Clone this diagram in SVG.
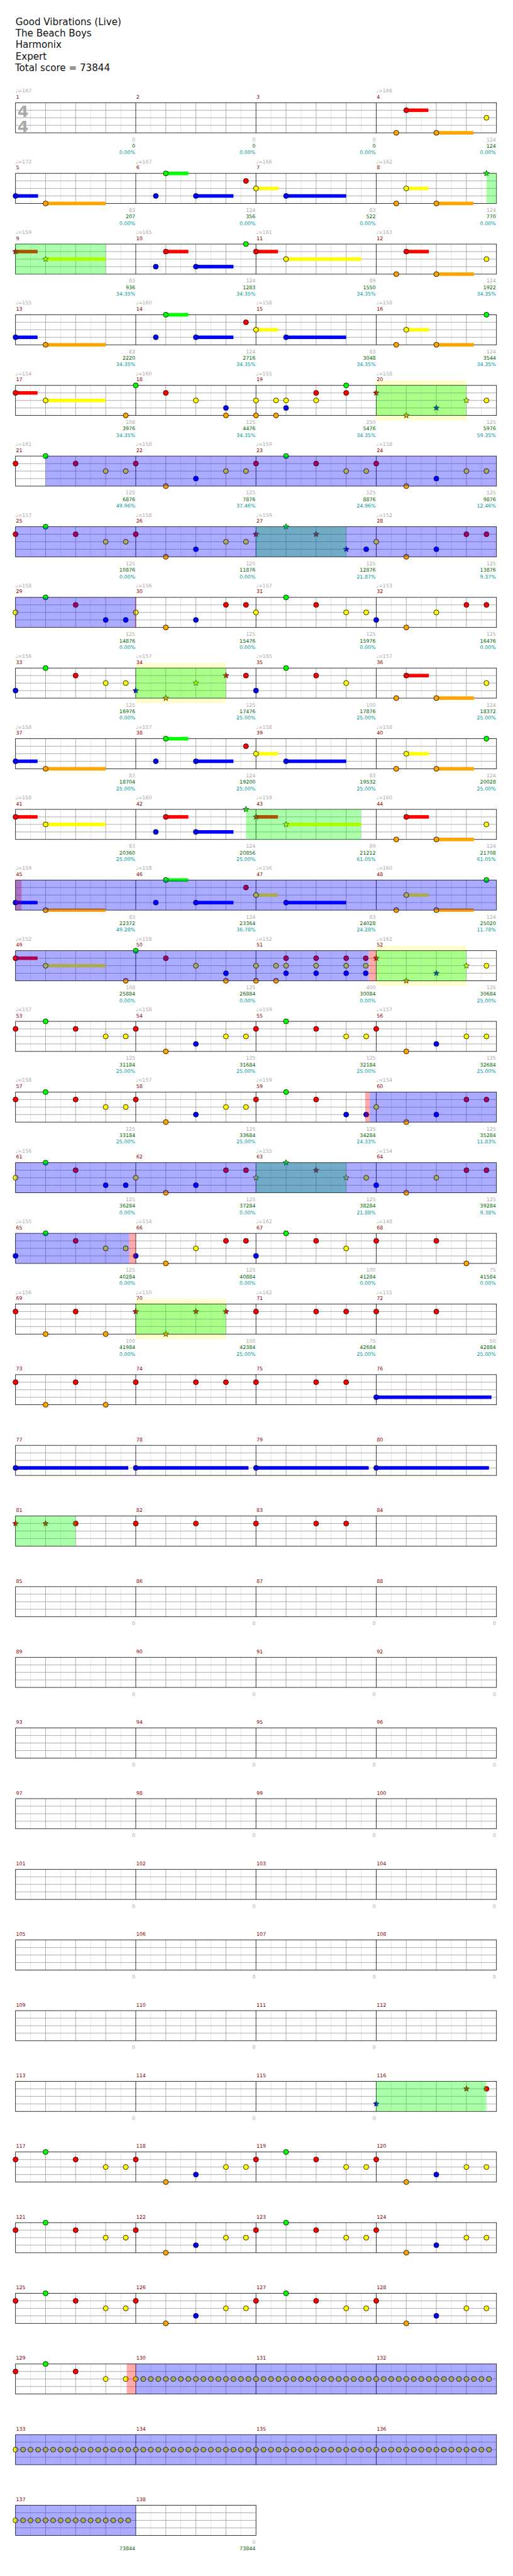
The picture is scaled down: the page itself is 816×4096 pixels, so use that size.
<svg xmlns="http://www.w3.org/2000/svg" xmlns:xlink="http://www.w3.org/1999/xlink" width="816" height="4096" viewBox="0 0 816 4096">
<style>
.hd{font-family:"DejaVu Sans",sans-serif;font-size:19px;fill:#111}
.ts{font-family:"DejaVu Sans",sans-serif;font-size:32px;font-weight:bold;fill:#aaa}
.t{font-family:"DejaVu Sans",sans-serif;font-size:10px;fill:#aaa}
.m{font-family:"DejaVu Sans",sans-serif;font-size:10px;fill:#8b0000}
.n{font-family:"DejaVu Sans",sans-serif;font-size:10px;text-anchor:end}
.a{fill:#aaa}.c{fill:#006400}.p{fill:#009999}
circle{stroke:#000;stroke-width:1}
use.s{stroke:#000;stroke-width:.8}
.G{fill:#00ff00}.R{fill:#ff0000}.Y{fill:#ffff00}.B{fill:#0000ff}.O{fill:#ffa500}
.sp{fill:#00ff00;fill-opacity:.33}.so{fill:#0000ff;fill-opacity:.33}.pk{fill:#ff0000;fill-opacity:.33}.yb{fill:#ffffcc}
.gl{stroke:#ddd;fill:none}.gb{stroke:#999;fill:none}.gm{stroke:#000;fill:none}
</style>
<defs>
<g id="grid">
<path class="gl" d="M61,0V60M121,0V60M181,0V60M241,0V60M301,0V60M361,0V60M421,0V60M481,0V60M541,0V60M601,0V60M661,0V60M721,0V60M781,0V60M841,0V60M901,0V60M961,0V60"/>
<path class="gb" d="M91,0V60M151,0V60M211,0V60M331,0V60M391,0V60M451,0V60M571,0V60M631,0V60M691,0V60M811,0V60M871,0V60M931,0V60M31,15H991M31,30H991M31,45H991"/>
<path class="gm" d="M271,0V60M511,0V60M751,0V60"/>
<rect class="gm" x="31" y="0" width="960" height="60"/>
</g>
<g id="grid2">
<path class="gl" d="M61,0V60M121,0V60M181,0V60M241,0V60M301,0V60M361,0V60M421,0V60M481,0V60"/>
<path class="gb" d="M91,0V60M151,0V60M211,0V60M331,0V60M391,0V60M451,0V60M31,15H511M31,30H511M31,45H511"/>
<path class="gm" d="M271,0V60"/>
<rect class="gm" x="31" y="0" width="480" height="60"/>
</g>
<path id="st" d="M0,-6L1.53,-2.1L5.71,-1.85L2.47,0.8L3.53,4.85L0,2.6L-3.53,4.85L-2.47,0.8L-5.71,-1.85L-1.53,-2.1Z"/>
<g id="tr">
<circle class="Y" cx="0" cy="30" r="5"/><circle class="Y" cx="15" cy="30" r="5"/><circle class="Y" cx="30" cy="30" r="5"/><circle class="Y" cx="45" cy="30" r="5"/>
<circle class="Y" cx="60" cy="30" r="5"/><circle class="Y" cx="75" cy="30" r="5"/><circle class="Y" cx="90" cy="30" r="5"/><circle class="Y" cx="105" cy="30" r="5"/>
<circle class="Y" cx="120" cy="30" r="5"/><circle class="Y" cx="135" cy="30" r="5"/><circle class="Y" cx="150" cy="30" r="5"/><circle class="Y" cx="165" cy="30" r="5"/>
<circle class="Y" cx="180" cy="30" r="5"/><circle class="Y" cx="195" cy="30" r="5"/><circle class="Y" cx="210" cy="30" r="5"/><circle class="Y" cx="225" cy="30" r="5"/>
</g>
<g id="riff">
<circle class="R" cx="31" cy="15" r="5"/><circle class="G" cx="91" cy="0" r="5"/><circle class="R" cx="151" cy="15" r="5"/><circle class="Y" cx="211" cy="30" r="5"/><circle class="Y" cx="251" cy="30" r="5"/>
<circle class="R" cx="271" cy="15" r="5"/><circle class="O" cx="331" cy="60" r="5"/><circle class="B" cx="391" cy="45" r="5"/><circle class="Y" cx="451" cy="30" r="5"/><circle class="Y" cx="491" cy="30" r="5"/>
<circle class="R" cx="511" cy="15" r="5"/><circle class="G" cx="571" cy="0" r="5"/><circle class="R" cx="631" cy="15" r="5"/><circle class="Y" cx="691" cy="30" r="5"/><circle class="Y" cx="731" cy="30" r="5"/>
<circle class="R" cx="751" cy="15" r="5"/><circle class="O" cx="811" cy="60" r="5"/><circle class="B" cx="871" cy="45" r="5"/><circle class="Y" cx="931" cy="30" r="5"/><circle class="Y" cx="971" cy="30" r="5"/>
</g>
</defs>
<g transform="scale(0.796875)">
<g id="header">
<text class="hd" x="31" y="50">Good Vibrations (Live)</text>
<text class="hd" x="31" y="73">The Beach Boys</text>
<text class="hd" x="31" y="96">Harmonix</text>
<text class="hd" x="31" y="119">Expert</text>
<text class="hd" x="30" y="142">Total score = 73844</text>
</g>

<g id="row1" transform="translate(0,205)">
<use href="#grid"/>
<text class="ts" x="35" y="28">4</text><text class="ts" x="35" y="58">4</text>
<text class="t" x="31" y="-20">♩=167</text><text class="t" x="751" y="-20">♩=166</text>
<text class="m" x="32" y="-8">1</text><text class="m" x="272" y="-8">2</text><text class="m" x="512" y="-8">3</text><text class="m" x="752" y="-8">4</text>
<text class="n a" x="270" y="77">0</text><text class="n c" x="270" y="90">0</text><text class="n p" x="270" y="103">0.00%</text>
<text class="n a" x="510" y="77">0</text><text class="n c" x="510" y="90">0</text><text class="n p" x="510" y="103">0.00%</text>
<text class="n a" x="750" y="77">0</text><text class="n c" x="750" y="90">0</text><text class="n p" x="750" y="103">0.00%</text>
<text class="n a" x="990" y="77">124</text><text class="n c" x="990" y="90">124</text><text class="n p" x="990" y="103">0.00%</text>
<rect class="R" x="811" y="11.5" width="44" height="7"/><circle class="R" cx="811" cy="15" r="5"/>
<circle class="O" cx="791" cy="60" r="5"/>
<rect class="O" x="871" y="56.5" width="74" height="7"/><circle class="O" cx="871" cy="60" r="5"/>
<circle class="Y" cx="971" cy="30" r="5"/>
</g>

<g id="row2" transform="translate(0,346)">
<use href="#grid"/>
<text class="t" x="31" y="-20">♩=172</text><text class="t" x="271" y="-20">♩=167</text><text class="t" x="511" y="-20">♩=166</text><text class="t" x="751" y="-20">♩=162</text>
<text class="m" x="32" y="-8">5</text><text class="m" x="272" y="-8">6</text><text class="m" x="512" y="-8">7</text><text class="m" x="752" y="-8">8</text>
<text class="n a" x="270" y="77">83</text><text class="n c" x="270" y="90">207</text><text class="n p" x="270" y="103">0.00%</text>
<text class="n a" x="510" y="77">124</text><text class="n c" x="510" y="90">356</text><text class="n p" x="510" y="103">0.00%</text>
<text class="n a" x="750" y="77">83</text><text class="n c" x="750" y="90">522</text><text class="n p" x="750" y="103">0.00%</text>
<text class="n a" x="990" y="77">124</text><text class="n c" x="990" y="90">770</text><text class="n p" x="990" y="103">0.00%</text>
<rect class="B" x="31" y="41.5" width="45" height="7"/><circle class="B" cx="31" cy="45" r="5"/>
<rect class="O" x="91" y="56.5" width="120" height="7"/><circle class="O" cx="91" cy="60" r="5"/>
<circle class="B" cx="311" cy="45" r="5"/>
<rect class="G" x="331" y="-3.5" width="45" height="7"/><circle class="G" cx="331" cy="0" r="5"/>
<rect class="B" x="391" y="41.5" width="75" height="7"/><circle class="B" cx="391" cy="45" r="5"/>
<circle class="R" cx="491" cy="15" r="5"/>
<rect class="Y" x="511" y="26.5" width="45" height="7"/><circle class="Y" cx="511" cy="30" r="5"/>
<rect class="B" x="571" y="41.5" width="120" height="7"/><circle class="B" cx="571" cy="45" r="5"/>
<circle class="O" cx="791" cy="60" r="5"/>
<rect class="Y" x="811" y="26.5" width="44" height="7"/><circle class="Y" cx="811" cy="30" r="5"/>
<rect class="O" x="871" y="56.5" width="74" height="7"/><circle class="O" cx="871" cy="60" r="5"/>
<use class="s G" href="#st" x="971" y="0"/>
<rect class="sp" x="971" y="0" width="20" height="60"/>
</g>

<g id="row3" transform="translate(0,487)">
<use href="#grid"/>
<text class="t" x="31" y="-20">♩=159</text><text class="t" x="271" y="-20">♩=165</text><text class="t" x="511" y="-20">♩=161</text><text class="t" x="751" y="-20">♩=163</text>
<text class="m" x="32" y="-8">9</text><text class="m" x="272" y="-8">10</text><text class="m" x="512" y="-8">11</text><text class="m" x="752" y="-8">12</text>
<text class="n a" x="270" y="77">83</text><text class="n c" x="270" y="90">936</text><text class="n p" x="270" y="103">34.35%</text>
<text class="n a" x="510" y="77">124</text><text class="n c" x="510" y="90">1283</text><text class="n p" x="510" y="103">34.35%</text>
<text class="n a" x="750" y="77">89</text><text class="n c" x="750" y="90">1550</text><text class="n p" x="750" y="103">34.35%</text>
<text class="n a" x="990" y="77">124</text><text class="n c" x="990" y="90">1922</text><text class="n p" x="990" y="103">34.35%</text>
<rect class="R" x="31" y="11.5" width="44" height="7"/><use class="s R" href="#st" x="31" y="15"/>
<rect class="Y" x="91" y="26.5" width="120" height="7"/><use class="s Y" href="#st" x="91" y="30"/>
<circle class="B" cx="311" cy="45" r="5"/>
<rect class="R" x="331" y="11.5" width="45" height="7"/><circle class="R" cx="331" cy="15" r="5"/>
<rect class="B" x="391" y="41.5" width="75" height="7"/><circle class="B" cx="391" cy="45" r="5"/>
<circle class="G" cx="491" cy="0" r="5"/>
<rect class="R" x="511" y="11.5" width="44" height="7"/><circle class="R" cx="511" cy="15" r="5"/>
<rect class="Y" x="571" y="26.5" width="150" height="7"/><circle class="Y" cx="571" cy="30" r="5"/>
<circle class="O" cx="791" cy="60" r="5"/>
<rect class="R" x="811" y="11.5" width="45" height="7"/><circle class="R" cx="811" cy="15" r="5"/>
<rect class="O" x="871" y="56.5" width="75" height="7"/><circle class="O" cx="871" cy="60" r="5"/>
<circle class="Y" cx="971" cy="30" r="5"/>
<rect class="sp" x="31" y="0" width="180" height="60"/>
</g>

<g id="row4" transform="translate(0,628)">
<use href="#grid"/>
<text class="t" x="31" y="-20">♩=155</text><text class="t" x="271" y="-20">♩=160</text><text class="t" x="511" y="-20">♩=158</text><text class="t" x="751" y="-20">♩=158</text>
<text class="m" x="32" y="-8">13</text><text class="m" x="272" y="-8">14</text><text class="m" x="512" y="-8">15</text><text class="m" x="752" y="-8">16</text>
<text class="n a" x="270" y="77">83</text><text class="n c" x="270" y="90">2220</text><text class="n p" x="270" y="103">34.35%</text>
<text class="n a" x="510" y="77">124</text><text class="n c" x="510" y="90">2716</text><text class="n p" x="510" y="103">34.35%</text>
<text class="n a" x="750" y="77">83</text><text class="n c" x="750" y="90">3048</text><text class="n p" x="750" y="103">34.35%</text>
<text class="n a" x="990" y="77">124</text><text class="n c" x="990" y="90">3544</text><text class="n p" x="990" y="103">34.35%</text>
<rect class="B" x="31" y="41.5" width="44" height="7"/><circle class="B" cx="31" cy="45" r="5"/>
<rect class="O" x="91" y="56.5" width="120" height="7"/><circle class="O" cx="91" cy="60" r="5"/>
<circle class="B" cx="311" cy="45" r="5"/>
<rect class="G" x="331" y="-3.5" width="45" height="7"/><circle class="G" cx="331" cy="0" r="5"/>
<rect class="B" x="391" y="41.5" width="75" height="7"/><circle class="B" cx="391" cy="45" r="5"/>
<circle class="R" cx="491" cy="15" r="5"/>
<rect class="Y" x="511" y="26.5" width="44" height="7"/><circle class="Y" cx="511" cy="30" r="5"/>
<rect class="B" x="571" y="41.5" width="120" height="7"/><circle class="B" cx="571" cy="45" r="5"/>
<circle class="O" cx="791" cy="60" r="5"/>
<rect class="Y" x="811" y="26.5" width="45" height="7"/><circle class="Y" cx="811" cy="30" r="5"/>
<rect class="O" x="871" y="56.5" width="75" height="7"/><circle class="O" cx="871" cy="60" r="5"/>
<circle class="G" cx="971" cy="0" r="5"/>
</g>

<g id="row5" transform="translate(0,769)">
<rect class="yb" x="751" y="-10" width="180" height="80"/>
<use href="#grid"/>
<text class="t" x="31" y="-20">♩=154</text><text class="t" x="271" y="-20">♩=160</text><text class="t" x="511" y="-20">♩=155</text><text class="t" x="751" y="-20">♩=158</text>
<text class="m" x="32" y="-8">17</text><text class="m" x="272" y="-8">18</text><text class="m" x="512" y="-8">19</text><text class="m" x="752" y="-8">20</text>
<text class="n a" x="270" y="77">108</text><text class="n c" x="270" y="90">3976</text><text class="n p" x="270" y="103">34.35%</text>
<text class="n a" x="510" y="77">125</text><text class="n c" x="510" y="90">4476</text><text class="n p" x="510" y="103">34.35%</text>
<text class="n a" x="750" y="77">250</text><text class="n c" x="750" y="90">5476</text><text class="n p" x="750" y="103">34.35%</text>
<text class="n a" x="990" y="77">125</text><text class="n c" x="990" y="90">5976</text><text class="n p" x="990" y="103">59.35%</text>
<rect class="R" x="31" y="11.5" width="44" height="7"/><circle class="R" cx="31" cy="15" r="5"/>
<rect class="Y" x="91" y="26.5" width="120" height="7"/><circle class="Y" cx="91" cy="30" r="5"/>
<circle class="O" cx="251" cy="60" r="5"/><circle class="G" cx="271" cy="0" r="5"/>
<circle class="R" cx="331" cy="15" r="5"/><circle class="Y" cx="391" cy="30" r="5"/>
<circle class="B" cx="451" cy="45" r="5"/><circle class="O" cx="451" cy="60" r="5"/>
<circle class="Y" cx="511" cy="30" r="5"/><circle class="O" cx="511" cy="60" r="5"/>
<circle class="Y" cx="551" cy="30" r="5"/><circle class="O" cx="551" cy="60" r="5"/>
<circle class="Y" cx="571" cy="30" r="5"/><circle class="B" cx="571" cy="45" r="5"/>
<circle class="R" cx="631" cy="15" r="5"/><circle class="Y" cx="631" cy="30" r="5"/>
<circle class="G" cx="691" cy="0" r="5"/><circle class="R" cx="691" cy="15" r="5"/>
<use class="s R" href="#st" x="751" y="15"/><use class="s O" href="#st" x="811" y="60"/><use class="s B" href="#st" x="871" y="45"/><use class="s Y" href="#st" x="931" y="30"/>
<circle class="Y" cx="971" cy="30" r="5"/>
<rect class="sp" x="751" y="0" width="180" height="60"/>
</g>

<g id="row6" transform="translate(0,910)">
<use href="#grid"/>
<text class="t" x="31" y="-20">♩=161</text><text class="t" x="271" y="-20">♩=158</text><text class="t" x="511" y="-20">♩=159</text><text class="t" x="751" y="-20">♩=158</text>
<text class="m" x="32" y="-8">21</text><text class="m" x="272" y="-8">22</text><text class="m" x="512" y="-8">23</text><text class="m" x="752" y="-8">24</text>
<text class="n a" x="270" y="77">125</text><text class="n c" x="270" y="90">6876</text><text class="n p" x="270" y="103">49.96%</text>
<text class="n a" x="510" y="77">125</text><text class="n c" x="510" y="90">7876</text><text class="n p" x="510" y="103">37.46%</text>
<text class="n a" x="750" y="77">125</text><text class="n c" x="750" y="90">8876</text><text class="n p" x="750" y="103">24.96%</text>
<text class="n a" x="990" y="77">125</text><text class="n c" x="990" y="90">9876</text><text class="n p" x="990" y="103">12.46%</text>
<use href="#riff"/>
<rect class="so" x="91" y="0" width="900" height="60"/>
</g>

<g id="row7" transform="translate(0,1051)">
<use href="#grid"/>
<text class="t" x="31" y="-20">♩=157</text><text class="t" x="271" y="-20">♩=158</text><text class="t" x="511" y="-20">♩=159</text><text class="t" x="751" y="-20">♩=152</text>
<text class="m" x="32" y="-8">25</text><text class="m" x="272" y="-8">26</text><text class="m" x="512" y="-8">27</text><text class="m" x="752" y="-8">28</text>
<text class="n a" x="270" y="77">125</text><text class="n c" x="270" y="90">10876</text><text class="n p" x="270" y="103">0.00%</text>
<text class="n a" x="510" y="77">125</text><text class="n c" x="510" y="90">11876</text><text class="n p" x="510" y="103">0.00%</text>
<text class="n a" x="750" y="77">125</text><text class="n c" x="750" y="90">12876</text><text class="n p" x="750" y="103">21.87%</text>
<text class="n a" x="990" y="77">125</text><text class="n c" x="990" y="90">13876</text><text class="n p" x="990" y="103">9.37%</text>
<circle class="R" cx="31" cy="15" r="5"/><circle class="G" cx="91" cy="0" r="5"/><circle class="R" cx="151" cy="15" r="5"/><circle class="Y" cx="211" cy="30" r="5"/><circle class="Y" cx="251" cy="30" r="5"/>
<circle class="R" cx="271" cy="15" r="5"/><circle class="O" cx="331" cy="60" r="5"/><circle class="B" cx="391" cy="45" r="5"/><circle class="Y" cx="451" cy="30" r="5"/><circle class="Y" cx="491" cy="30" r="5"/>
<use class="s R" href="#st" x="511" y="15"/><use class="s G" href="#st" x="571" y="0"/><use class="s R" href="#st" x="631" y="15"/><use class="s B" href="#st" x="691" y="45"/>
<circle class="B" cx="731" cy="45" r="5"/><circle class="Y" cx="751" cy="30" r="5"/><circle class="O" cx="811" cy="60" r="5"/><circle class="B" cx="871" cy="45" r="5"/><circle class="R" cx="931" cy="15" r="5"/><circle class="R" cx="971" cy="15" r="5"/>
<rect class="sp" x="511" y="0" width="180" height="60"/>
<rect class="so" x="31" y="0" width="960" height="60"/>
</g>

<g id="row8" transform="translate(0,1192)">
<use href="#grid"/>
<text class="t" x="31" y="-20">♩=158</text><text class="t" x="271" y="-20">♩=156</text><text class="t" x="511" y="-20">♩=157</text><text class="t" x="751" y="-20">♩=153</text>
<text class="m" x="32" y="-8">29</text><text class="m" x="272" y="-8">30</text><text class="m" x="512" y="-8">31</text><text class="m" x="752" y="-8">32</text>
<text class="n a" x="270" y="77">125</text><text class="n c" x="270" y="90">14876</text><text class="n p" x="270" y="103">0.00%</text>
<text class="n a" x="510" y="77">125</text><text class="n c" x="510" y="90">15476</text><text class="n p" x="510" y="103">0.00%</text>
<text class="n a" x="750" y="77">125</text><text class="n c" x="750" y="90">15976</text><text class="n p" x="750" y="103">0.00%</text>
<text class="n a" x="990" y="77">125</text><text class="n c" x="990" y="90">16476</text><text class="n p" x="990" y="103">0.00%</text>
<circle class="Y" cx="31" cy="30" r="5"/><circle class="G" cx="91" cy="0" r="5"/><circle class="R" cx="151" cy="15" r="5"/><circle class="B" cx="211" cy="45" r="5"/><circle class="B" cx="251" cy="45" r="5"/>
<circle class="Y" cx="271" cy="30" r="5"/><circle class="O" cx="331" cy="60" r="5"/><circle class="B" cx="391" cy="45" r="5"/><circle class="R" cx="451" cy="15" r="5"/><circle class="R" cx="491" cy="15" r="5"/>
<circle class="Y" cx="511" cy="30" r="5"/><circle class="G" cx="571" cy="0" r="5"/><circle class="R" cx="631" cy="15" r="5"/><circle class="Y" cx="691" cy="30" r="5"/><circle class="Y" cx="731" cy="30" r="5"/>
<circle class="B" cx="751" cy="45" r="5"/><circle class="O" cx="811" cy="60" r="5"/><circle class="Y" cx="871" cy="30" r="5"/><circle class="R" cx="931" cy="15" r="5"/><circle class="R" cx="971" cy="15" r="5"/>
<rect class="so" x="31" y="0" width="240" height="60"/>
<rect class="pk" x="269.5" y="0" width="1.5" height="60"/>
</g>

<g id="row9" transform="translate(0,1333)">
<rect class="yb" x="271" y="-10" width="180" height="80"/>
<use href="#grid"/>
<text class="t" x="31" y="-20">♩=156</text><text class="t" x="271" y="-20">♩=157</text><text class="t" x="511" y="-20">♩=165</text><text class="t" x="751" y="-20">♩=157</text>
<text class="m" x="32" y="-8">33</text><text class="m" x="272" y="-8">34</text><text class="m" x="512" y="-8">35</text><text class="m" x="752" y="-8">36</text>
<text class="n a" x="270" y="77">125</text><text class="n c" x="270" y="90">16976</text><text class="n p" x="270" y="103">0.00%</text>
<text class="n a" x="510" y="77">125</text><text class="n c" x="510" y="90">17476</text><text class="n p" x="510" y="103">25.00%</text>
<text class="n a" x="750" y="77">100</text><text class="n c" x="750" y="90">17876</text><text class="n p" x="750" y="103">25.00%</text>
<text class="n a" x="990" y="77">124</text><text class="n c" x="990" y="90">18372</text><text class="n p" x="990" y="103">25.00%</text>
<circle class="B" cx="31" cy="45" r="5"/><circle class="G" cx="91" cy="0" r="5"/><circle class="R" cx="151" cy="15" r="5"/><circle class="Y" cx="211" cy="30" r="5"/><circle class="Y" cx="251" cy="30" r="5"/>
<use class="s B" href="#st" x="271" y="45"/><use class="s O" href="#st" x="331" y="60"/><use class="s Y" href="#st" x="391" y="30"/><use class="s R" href="#st" x="451" y="15"/>
<circle class="R" cx="491" cy="15" r="5"/><circle class="B" cx="511" cy="45" r="5"/><circle class="G" cx="571" cy="0" r="5"/><circle class="R" cx="631" cy="15" r="5"/><circle class="Y" cx="691" cy="30" r="5"/>
<circle class="O" cx="791" cy="60" r="5"/>
<rect class="R" x="811" y="11.5" width="45" height="7"/><circle class="R" cx="811" cy="15" r="5"/>
<rect class="O" x="871" y="56.5" width="75" height="7"/><circle class="O" cx="871" cy="60" r="5"/>
<circle class="Y" cx="971" cy="30" r="5"/>
<rect class="sp" x="271" y="0" width="180" height="60"/>
</g>

<g id="row10" transform="translate(0,1474)">
<use href="#grid"/>
<text class="t" x="31" y="-20">♩=158</text><text class="t" x="271" y="-20">♩=157</text><text class="t" x="511" y="-20">♩=158</text><text class="t" x="751" y="-20">♩=158</text>
<text class="m" x="32" y="-8">37</text><text class="m" x="272" y="-8">38</text><text class="m" x="512" y="-8">39</text><text class="m" x="752" y="-8">40</text>
<text class="n a" x="270" y="77">83</text><text class="n c" x="270" y="90">18704</text><text class="n p" x="270" y="103">25.00%</text>
<text class="n a" x="510" y="77">124</text><text class="n c" x="510" y="90">19200</text><text class="n p" x="510" y="103">25.00%</text>
<text class="n a" x="750" y="77">83</text><text class="n c" x="750" y="90">19532</text><text class="n p" x="750" y="103">25.00%</text>
<text class="n a" x="990" y="77">124</text><text class="n c" x="990" y="90">20028</text><text class="n p" x="990" y="103">25.00%</text>
<rect class="B" x="31" y="41.5" width="44" height="7"/><circle class="B" cx="31" cy="45" r="5"/>
<rect class="O" x="91" y="56.5" width="120" height="7"/><circle class="O" cx="91" cy="60" r="5"/>
<circle class="B" cx="311" cy="45" r="5"/>
<rect class="G" x="331" y="-3.5" width="45" height="7"/><circle class="G" cx="331" cy="0" r="5"/>
<rect class="B" x="391" y="41.5" width="75" height="7"/><circle class="B" cx="391" cy="45" r="5"/>
<circle class="R" cx="491" cy="15" r="5"/>
<rect class="Y" x="511" y="26.5" width="44" height="7"/><circle class="Y" cx="511" cy="30" r="5"/>
<rect class="B" x="571" y="41.5" width="120" height="7"/><circle class="B" cx="571" cy="45" r="5"/>
<circle class="O" cx="791" cy="60" r="5"/>
<rect class="Y" x="811" y="26.5" width="45" height="7"/><circle class="Y" cx="811" cy="30" r="5"/>
<rect class="O" x="871" y="56.5" width="75" height="7"/><circle class="O" cx="871" cy="60" r="5"/>
<circle class="G" cx="971" cy="0" r="5"/>
</g>

<g id="row11" transform="translate(0,1615)">
<use href="#grid"/>
<text class="t" x="31" y="-20">♩=158</text><text class="t" x="271" y="-20">♩=160</text><text class="t" x="511" y="-20">♩=159</text><text class="t" x="751" y="-20">♩=160</text>
<text class="m" x="32" y="-8">41</text><text class="m" x="272" y="-8">42</text><text class="m" x="512" y="-8">43</text><text class="m" x="752" y="-8">44</text>
<text class="n a" x="270" y="77">83</text><text class="n c" x="270" y="90">20360</text><text class="n p" x="270" y="103">25.00%</text>
<text class="n a" x="510" y="77">124</text><text class="n c" x="510" y="90">20856</text><text class="n p" x="510" y="103">25.00%</text>
<text class="n a" x="750" y="77">89</text><text class="n c" x="750" y="90">21212</text><text class="n p" x="750" y="103">61.05%</text>
<text class="n a" x="990" y="77">124</text><text class="n c" x="990" y="90">21708</text><text class="n p" x="990" y="103">61.05%</text>
<rect class="R" x="31" y="11.5" width="44" height="7"/><circle class="R" cx="31" cy="15" r="5"/>
<rect class="Y" x="91" y="26.5" width="120" height="7"/><circle class="Y" cx="91" cy="30" r="5"/>
<circle class="B" cx="311" cy="45" r="5"/>
<rect class="R" x="331" y="11.5" width="45" height="7"/><circle class="R" cx="331" cy="15" r="5"/>
<rect class="B" x="391" y="41.5" width="75" height="7"/><circle class="B" cx="391" cy="45" r="5"/>
<use class="s G" href="#st" x="491" y="0"/>
<rect class="R" x="511" y="11.5" width="44" height="7"/><use class="s R" href="#st" x="511" y="15"/>
<rect class="Y" x="571" y="26.5" width="150" height="7"/><use class="s Y" href="#st" x="571" y="30"/>
<circle class="O" cx="791" cy="60" r="5"/>
<rect class="R" x="811" y="11.5" width="45" height="7"/><circle class="R" cx="811" cy="15" r="5"/>
<rect class="O" x="871" y="56.5" width="75" height="7"/><circle class="O" cx="871" cy="60" r="5"/>
<circle class="Y" cx="971" cy="30" r="5"/>
<rect class="sp" x="491" y="0" width="230" height="60"/>
</g>

<g id="row12" transform="translate(0,1756)">
<use href="#grid"/>
<text class="t" x="31" y="-20">♩=159</text><text class="t" x="271" y="-20">♩=158</text><text class="t" x="511" y="-20">♩=156</text><text class="t" x="751" y="-20">♩=160</text>
<text class="m" x="32" y="-8">45</text><text class="m" x="272" y="-8">46</text><text class="m" x="512" y="-8">47</text><text class="m" x="752" y="-8">48</text>
<text class="n a" x="270" y="77">83</text><text class="n c" x="270" y="90">22372</text><text class="n p" x="270" y="103">49.28%</text>
<text class="n a" x="510" y="77">124</text><text class="n c" x="510" y="90">23364</text><text class="n p" x="510" y="103">36.78%</text>
<text class="n a" x="750" y="77">83</text><text class="n c" x="750" y="90">24028</text><text class="n p" x="750" y="103">24.28%</text>
<text class="n a" x="990" y="77">124</text><text class="n c" x="990" y="90">25020</text><text class="n p" x="990" y="103">11.78%</text>
<rect class="B" x="31" y="41.5" width="44" height="7"/><circle class="B" cx="31" cy="45" r="5"/>
<rect class="O" x="91" y="56.5" width="120" height="7"/><circle class="O" cx="91" cy="60" r="5"/>
<circle class="B" cx="311" cy="45" r="5"/>
<rect class="G" x="331" y="-3.5" width="45" height="7"/><circle class="G" cx="331" cy="0" r="5"/>
<rect class="B" x="391" y="41.5" width="75" height="7"/><circle class="B" cx="391" cy="45" r="5"/>
<circle class="R" cx="491" cy="15" r="5"/>
<rect class="Y" x="511" y="26.5" width="44" height="7"/><circle class="Y" cx="511" cy="30" r="5"/>
<rect class="B" x="571" y="41.5" width="120" height="7"/><circle class="B" cx="571" cy="45" r="5"/>
<circle class="O" cx="791" cy="60" r="5"/>
<rect class="Y" x="811" y="26.5" width="45" height="7"/><circle class="Y" cx="811" cy="30" r="5"/>
<rect class="O" x="871" y="56.5" width="75" height="7"/><circle class="O" cx="871" cy="60" r="5"/>
<circle class="G" cx="971" cy="0" r="5"/>
<rect class="pk" x="31" y="0" width="12" height="60"/>
<rect class="so" x="31" y="0" width="960" height="60"/>
</g>

<g id="row13" transform="translate(0,1897)">
<rect class="yb" x="751" y="-10" width="180" height="80"/>
<use href="#grid"/>
<text class="t" x="31" y="-20">♩=152</text><text class="t" x="271" y="-20">♩=158</text><text class="t" x="511" y="-20">♩=152</text><text class="t" x="751" y="-20">♩=162</text>
<text class="m" x="32" y="-8">49</text><text class="m" x="272" y="-8">50</text><text class="m" x="512" y="-8">51</text><text class="m" x="752" y="-8">52</text>
<text class="n a" x="270" y="77">108</text><text class="n c" x="270" y="90">25884</text><text class="n p" x="270" y="103">0.00%</text>
<text class="n a" x="510" y="77">125</text><text class="n c" x="510" y="90">26884</text><text class="n p" x="510" y="103">0.00%</text>
<text class="n a" x="750" y="77">400</text><text class="n c" x="750" y="90">30084</text><text class="n p" x="750" y="103">0.00%</text>
<text class="n a" x="990" y="77">125</text><text class="n c" x="990" y="90">30684</text><text class="n p" x="990" y="103">25.00%</text>
<rect class="R" x="31" y="11.5" width="44" height="7"/><circle class="R" cx="31" cy="15" r="5"/>
<rect class="Y" x="91" y="26.5" width="120" height="7"/><circle class="Y" cx="91" cy="30" r="5"/>
<circle class="O" cx="251" cy="60" r="5"/><circle class="G" cx="271" cy="0" r="5"/>
<circle class="R" cx="331" cy="15" r="5"/><circle class="Y" cx="391" cy="30" r="5"/>
<circle class="B" cx="451" cy="45" r="5"/><circle class="O" cx="451" cy="60" r="5"/>
<circle class="Y" cx="511" cy="30" r="5"/><circle class="O" cx="511" cy="60" r="5"/>
<circle class="Y" cx="551" cy="30" r="5"/><circle class="O" cx="551" cy="60" r="5"/>
<circle class="R" cx="571" cy="15" r="5"/><circle class="Y" cx="571" cy="30" r="5"/><circle class="B" cx="571" cy="45" r="5"/>
<circle class="R" cx="631" cy="15" r="5"/><circle class="Y" cx="631" cy="30" r="5"/><circle class="B" cx="631" cy="45" r="5"/>
<circle class="R" cx="691" cy="15" r="5"/><circle class="Y" cx="691" cy="30" r="5"/><circle class="B" cx="691" cy="45" r="5"/>
<circle class="R" cx="730" cy="15" r="5"/><circle class="Y" cx="730" cy="30" r="5"/><circle class="B" cx="730" cy="45" r="5"/>
<use class="s R" href="#st" x="751" y="15"/><use class="s O" href="#st" x="811" y="60"/><use class="s B" href="#st" x="871" y="45"/><use class="s Y" href="#st" x="931" y="30"/>
<circle class="Y" cx="971" cy="30" r="5"/>
<rect class="sp" x="751" y="0" width="180" height="60"/>
<rect class="so" x="31" y="0" width="705" height="60"/>
<rect class="pk" x="736" y="0" width="15" height="60"/>
</g>

<g id="row14" transform="translate(0,2038)">
<use href="#grid"/>
<text class="t" x="31" y="-20">♩=157</text><text class="t" x="271" y="-20">♩=158</text><text class="t" x="511" y="-20">♩=159</text><text class="t" x="751" y="-20">♩=157</text>
<text class="m" x="32" y="-8">53</text><text class="m" x="272" y="-8">54</text><text class="m" x="512" y="-8">55</text><text class="m" x="752" y="-8">56</text>
<text class="n a" x="270" y="77">125</text><text class="n c" x="270" y="90">31184</text><text class="n p" x="270" y="103">25.00%</text>
<text class="n a" x="510" y="77">125</text><text class="n c" x="510" y="90">31684</text><text class="n p" x="510" y="103">25.00%</text>
<text class="n a" x="750" y="77">125</text><text class="n c" x="750" y="90">32184</text><text class="n p" x="750" y="103">25.00%</text>
<text class="n a" x="990" y="77">125</text><text class="n c" x="990" y="90">32684</text><text class="n p" x="990" y="103">25.00%</text>
<use href="#riff"/>
</g>

<g id="row15" transform="translate(0,2179)">
<use href="#grid"/>
<text class="t" x="31" y="-20">♩=158</text><text class="t" x="271" y="-20">♩=157</text><text class="t" x="511" y="-20">♩=159</text><text class="t" x="751" y="-20">♩=154</text>
<text class="m" x="32" y="-8">57</text><text class="m" x="272" y="-8">58</text><text class="m" x="512" y="-8">59</text><text class="m" x="752" y="-8">60</text>
<text class="n a" x="270" y="77">125</text><text class="n c" x="270" y="90">33184</text><text class="n p" x="270" y="103">25.00%</text>
<text class="n a" x="510" y="77">125</text><text class="n c" x="510" y="90">33684</text><text class="n p" x="510" y="103">25.00%</text>
<text class="n a" x="750" y="77">125</text><text class="n c" x="750" y="90">34284</text><text class="n p" x="750" y="103">24.33%</text>
<text class="n a" x="990" y="77">125</text><text class="n c" x="990" y="90">35284</text><text class="n p" x="990" y="103">11.83%</text>
<circle class="R" cx="31" cy="15" r="5"/><circle class="G" cx="91" cy="0" r="5"/><circle class="R" cx="151" cy="15" r="5"/><circle class="Y" cx="211" cy="30" r="5"/><circle class="Y" cx="251" cy="30" r="5"/>
<circle class="R" cx="271" cy="15" r="5"/><circle class="O" cx="331" cy="60" r="5"/><circle class="B" cx="391" cy="45" r="5"/><circle class="Y" cx="451" cy="30" r="5"/><circle class="Y" cx="491" cy="30" r="5"/>
<circle class="R" cx="511" cy="15" r="5"/><circle class="G" cx="571" cy="0" r="5"/><circle class="R" cx="631" cy="15" r="5"/><circle class="B" cx="691" cy="45" r="5"/><circle class="B" cx="731" cy="45" r="5"/>
<circle class="Y" cx="751" cy="30" r="5"/><circle class="O" cx="811" cy="60" r="5"/><circle class="B" cx="871" cy="45" r="5"/><circle class="R" cx="931" cy="15" r="5"/><circle class="R" cx="971" cy="15" r="5"/>
<rect class="pk" x="729" y="0" width="9" height="60"/>
<rect class="so" x="738" y="0" width="253" height="60"/>
</g>

<g id="row16" transform="translate(0,2320)">
<use href="#grid"/>
<text class="t" x="31" y="-20">♩=156</text><text class="t" x="511" y="-20">♩=155</text><text class="t" x="751" y="-20">♩=154</text>
<text class="m" x="32" y="-8">61</text><text class="m" x="272" y="-8">62</text><text class="m" x="512" y="-8">63</text><text class="m" x="752" y="-8">64</text>
<text class="n a" x="270" y="77">125</text><text class="n c" x="270" y="90">36284</text><text class="n p" x="270" y="103">0.00%</text>
<text class="n a" x="510" y="77">125</text><text class="n c" x="510" y="90">37284</text><text class="n p" x="510" y="103">0.00%</text>
<text class="n a" x="750" y="77">125</text><text class="n c" x="750" y="90">38284</text><text class="n p" x="750" y="103">21.88%</text>
<text class="n a" x="990" y="77">125</text><text class="n c" x="990" y="90">39284</text><text class="n p" x="990" y="103">9.38%</text>
<circle class="Y" cx="31" cy="30" r="5"/><circle class="G" cx="91" cy="0" r="5"/><circle class="R" cx="151" cy="15" r="5"/><circle class="B" cx="211" cy="45" r="5"/><circle class="B" cx="251" cy="45" r="5"/>
<circle class="Y" cx="271" cy="30" r="5"/><circle class="O" cx="331" cy="60" r="5"/><circle class="B" cx="391" cy="45" r="5"/><circle class="R" cx="451" cy="15" r="5"/><circle class="R" cx="491" cy="15" r="5"/>
<use class="s Y" href="#st" x="511" y="30"/><use class="s G" href="#st" x="571" y="0"/><use class="s R" href="#st" x="631" y="15"/><use class="s Y" href="#st" x="691" y="30"/>
<circle class="Y" cx="731" cy="30" r="5"/><circle class="B" cx="751" cy="45" r="5"/><circle class="O" cx="811" cy="60" r="5"/><circle class="Y" cx="871" cy="30" r="5"/><circle class="R" cx="931" cy="15" r="5"/><circle class="R" cx="971" cy="15" r="5"/>
<rect class="sp" x="511" y="0" width="180" height="60"/>
<rect class="so" x="31" y="0" width="960" height="60"/>
</g>

<g id="row17" transform="translate(0,2461)">
<use href="#grid"/>
<text class="t" x="31" y="-20">♩=155</text><text class="t" x="271" y="-20">♩=154</text><text class="t" x="511" y="-20">♩=162</text><text class="t" x="751" y="-20">♩=148</text>
<text class="m" x="32" y="-8">65</text><text class="m" x="272" y="-8">66</text><text class="m" x="512" y="-8">67</text><text class="m" x="752" y="-8">68</text>
<text class="n a" x="270" y="77">125</text><text class="n c" x="270" y="90">40284</text><text class="n p" x="270" y="103">0.00%</text>
<text class="n a" x="510" y="77">125</text><text class="n c" x="510" y="90">40884</text><text class="n p" x="510" y="103">0.00%</text>
<text class="n a" x="750" y="77">100</text><text class="n c" x="750" y="90">41284</text><text class="n p" x="750" y="103">0.00%</text>
<text class="n a" x="990" y="77">75</text><text class="n c" x="990" y="90">41584</text><text class="n p" x="990" y="103">0.00%</text>
<circle class="B" cx="31" cy="45" r="5"/><circle class="G" cx="91" cy="0" r="5"/><circle class="R" cx="151" cy="15" r="5"/><circle class="Y" cx="211" cy="30" r="5"/><circle class="Y" cx="251" cy="30" r="5"/>
<circle class="B" cx="271" cy="45" r="5"/><circle class="O" cx="331" cy="60" r="5"/><circle class="Y" cx="391" cy="30" r="5"/><circle class="R" cx="451" cy="15" r="5"/><circle class="R" cx="491" cy="15" r="5"/>
<circle class="B" cx="511" cy="45" r="5"/><circle class="G" cx="571" cy="0" r="5"/><circle class="R" cx="631" cy="15" r="5"/><circle class="Y" cx="691" cy="30" r="5"/>
<circle class="R" cx="751" cy="15" r="5"/><circle class="R" cx="871" cy="15" r="5"/><circle class="O" cx="931" cy="60" r="5"/>
<rect class="so" x="31" y="0" width="227" height="60"/>
<rect class="pk" x="258" y="0" width="13" height="60"/>
</g>

<g id="row18" transform="translate(0,2602)">
<rect class="yb" x="271" y="-10" width="180" height="80"/>
<use href="#grid"/>
<text class="t" x="31" y="-20">♩=156</text><text class="t" x="271" y="-20">♩=150</text><text class="t" x="511" y="-20">♩=162</text><text class="t" x="751" y="-20">♩=151</text>
<text class="m" x="32" y="-8">69</text><text class="m" x="272" y="-8">70</text><text class="m" x="512" y="-8">71</text><text class="m" x="752" y="-8">72</text>
<text class="n a" x="270" y="77">100</text><text class="n c" x="270" y="90">41984</text><text class="n p" x="270" y="103">0.00%</text>
<text class="n a" x="510" y="77">100</text><text class="n c" x="510" y="90">42384</text><text class="n p" x="510" y="103">25.00%</text>
<text class="n a" x="750" y="77">75</text><text class="n c" x="750" y="90">42684</text><text class="n p" x="750" y="103">25.00%</text>
<text class="n a" x="990" y="77">50</text><text class="n c" x="990" y="90">42884</text><text class="n p" x="990" y="103">25.00%</text>
<circle class="R" cx="31" cy="15" r="5"/><circle class="O" cx="91" cy="60" r="5"/><circle class="R" cx="151" cy="15" r="5"/><circle class="O" cx="211" cy="60" r="5"/>
<use class="s R" href="#st" x="271" y="15"/><use class="s O" href="#st" x="331" y="60"/><use class="s R" href="#st" x="391" y="15"/><use class="s R" href="#st" x="451" y="15"/>
<circle class="R" cx="511" cy="15" r="5"/><circle class="R" cx="631" cy="15" r="5"/><circle class="R" cx="691" cy="15" r="5"/><circle class="R" cx="751" cy="15" r="5"/><circle class="R" cx="871" cy="15" r="5"/>
<rect class="sp" x="271" y="0" width="180" height="60"/>
</g>

<g id="row19" transform="translate(0,2743)"><use href="#grid"/><text class="m" x="32" y="-8">73</text><text class="m" x="272" y="-8">74</text><text class="m" x="512" y="-8">75</text><text class="m" x="752" y="-8">76</text>
<circle class="R" cx="31" cy="15" r="5"/><circle class="O" cx="91" cy="60" r="5"/><circle class="R" cx="151" cy="15" r="5"/><circle class="O" cx="211" cy="60" r="5"/>
<circle class="R" cx="271" cy="15" r="5"/><circle class="R" cx="391" cy="15" r="5"/><circle class="R" cx="451" cy="15" r="5"/><circle class="R" cx="511" cy="15" r="5"/><circle class="R" cx="631" cy="15" r="5"/><circle class="R" cx="691" cy="15" r="5"/>
<rect class="B" x="751" y="41.5" width="230" height="7"/><circle class="B" cx="751" cy="45" r="5"/>
</g>
<g id="row20" transform="translate(0,2884)"><use href="#grid"/><text class="m" x="32" y="-8">77</text><text class="m" x="272" y="-8">78</text><text class="m" x="512" y="-8">79</text><text class="m" x="752" y="-8">80</text>
<rect class="B" x="31" y="41.5" width="225" height="7"/><circle class="B" cx="31" cy="45" r="5"/>
<rect class="B" x="271" y="41.5" width="225" height="7"/><circle class="B" cx="271" cy="45" r="5"/>
<rect class="B" x="511" y="41.5" width="225" height="7"/><circle class="B" cx="511" cy="45" r="5"/>
<rect class="B" x="751" y="41.5" width="225" height="7"/><circle class="B" cx="751" cy="45" r="5"/>
</g>
<g id="row21" transform="translate(0,3025)"><use href="#grid"/><text class="m" x="32" y="-8">81</text><text class="m" x="272" y="-8">82</text><text class="m" x="512" y="-8">83</text><text class="m" x="752" y="-8">84</text>
<use class="s R" href="#st" x="31" y="15"/><use class="s R" href="#st" x="91" y="15"/><circle class="R" cx="151" cy="15" r="5"/>
<circle class="R" cx="271" cy="15" r="5"/><circle class="R" cx="391" cy="15" r="5"/><circle class="R" cx="511" cy="15" r="5"/><circle class="R" cx="631" cy="15" r="5"/><circle class="R" cx="691" cy="15" r="5"/>
<rect class="sp" x="31" y="0" width="120" height="60"/></g>
<g id="row22" transform="translate(0,3166)"><use href="#grid"/><text class="m" x="32" y="-8">85</text><text class="m" x="272" y="-8">86</text><text class="m" x="512" y="-8">87</text><text class="m" x="752" y="-8">88</text>
<text class="n a" x="270" y="77">0</text><text class="n a" x="510" y="77">0</text><text class="n a" x="750" y="77">0</text><text class="n a" x="990" y="77">0</text></g>
<g id="row23" transform="translate(0,3307)"><use href="#grid"/><text class="m" x="32" y="-8">89</text><text class="m" x="272" y="-8">90</text><text class="m" x="512" y="-8">91</text><text class="m" x="752" y="-8">92</text>
<text class="n a" x="270" y="77">0</text><text class="n a" x="510" y="77">0</text><text class="n a" x="750" y="77">0</text><text class="n a" x="990" y="77">0</text></g>
<g id="row24" transform="translate(0,3448)"><use href="#grid"/><text class="m" x="32" y="-8">93</text><text class="m" x="272" y="-8">94</text><text class="m" x="512" y="-8">95</text><text class="m" x="752" y="-8">96</text>
<text class="n a" x="270" y="77">0</text><text class="n a" x="510" y="77">0</text><text class="n a" x="750" y="77">0</text><text class="n a" x="990" y="77">0</text></g>
<g id="row25" transform="translate(0,3589)"><use href="#grid"/><text class="m" x="32" y="-8">97</text><text class="m" x="272" y="-8">98</text><text class="m" x="512" y="-8">99</text><text class="m" x="752" y="-8">100</text>
<text class="n a" x="270" y="77">0</text><text class="n a" x="510" y="77">0</text><text class="n a" x="750" y="77">0</text><text class="n a" x="990" y="77">0</text></g>
<g id="row26" transform="translate(0,3730)"><use href="#grid"/><text class="m" x="32" y="-8">101</text><text class="m" x="272" y="-8">102</text><text class="m" x="512" y="-8">103</text><text class="m" x="752" y="-8">104</text>
<text class="n a" x="270" y="77">0</text><text class="n a" x="510" y="77">0</text><text class="n a" x="750" y="77">0</text><text class="n a" x="990" y="77">0</text></g>
<g id="row27" transform="translate(0,3871)"><use href="#grid"/><text class="m" x="32" y="-8">105</text><text class="m" x="272" y="-8">106</text><text class="m" x="512" y="-8">107</text><text class="m" x="752" y="-8">108</text>
<text class="n a" x="270" y="77">0</text><text class="n a" x="510" y="77">0</text><text class="n a" x="750" y="77">0</text><text class="n a" x="990" y="77">0</text></g>
<g id="row28" transform="translate(0,4012)"><use href="#grid"/><text class="m" x="32" y="-8">109</text><text class="m" x="272" y="-8">110</text><text class="m" x="512" y="-8">111</text><text class="m" x="752" y="-8">112</text>
<text class="n a" x="270" y="77">0</text><text class="n a" x="510" y="77">0</text><text class="n a" x="750" y="77">0</text></g>
<g id="row29" transform="translate(0,4153)"><use href="#grid"/><text class="m" x="32" y="-8">113</text><text class="m" x="272" y="-8">114</text><text class="m" x="512" y="-8">115</text><text class="m" x="752" y="-8">116</text>
<text class="n a" x="270" y="77">0</text><text class="n a" x="510" y="77">0</text><text class="n a" x="750" y="77">0</text>
<use class="s B" href="#st" x="751" y="45"/><use class="s R" href="#st" x="931" y="15"/><circle class="R" cx="971" cy="15" r="5"/>
<rect class="sp" x="751" y="0" width="220" height="60"/></g>
<g id="row30" transform="translate(0,4294)"><use href="#grid"/><text class="m" x="32" y="-8">117</text><text class="m" x="272" y="-8">118</text><text class="m" x="512" y="-8">119</text><text class="m" x="752" y="-8">120</text>
<use href="#riff"/></g>
<g id="row31" transform="translate(0,4435)"><use href="#grid"/><text class="m" x="32" y="-8">121</text><text class="m" x="272" y="-8">122</text><text class="m" x="512" y="-8">123</text><text class="m" x="752" y="-8">124</text>
<use href="#riff"/></g>
<g id="row32" transform="translate(0,4576)"><use href="#grid"/><text class="m" x="32" y="-8">125</text><text class="m" x="272" y="-8">126</text><text class="m" x="512" y="-8">127</text><text class="m" x="752" y="-8">128</text>
<use href="#riff"/></g>
<g id="row33" transform="translate(0,4717)"><use href="#grid"/><text class="m" x="32" y="-8">129</text><text class="m" x="272" y="-8">130</text><text class="m" x="512" y="-8">131</text><text class="m" x="752" y="-8">132</text>
<circle class="R" cx="31" cy="15" r="5"/><circle class="G" cx="91" cy="0" r="5"/><circle class="R" cx="151" cy="15" r="5"/><circle class="Y" cx="211" cy="30" r="5"/><circle class="Y" cx="251" cy="30" r="5"/>
<use href="#tr" x="271"/><use href="#tr" x="511"/><use href="#tr" x="751"/>
<rect class="pk" x="253" y="0" width="18" height="60"/><rect class="so" x="271" y="0" width="720" height="60"/></g>
<g id="row34" transform="translate(0,4858)"><use href="#grid"/><text class="m" x="32" y="-8">133</text><text class="m" x="272" y="-8">134</text><text class="m" x="512" y="-8">135</text><text class="m" x="752" y="-8">136</text>
<use href="#tr" x="31"/><use href="#tr" x="271"/><use href="#tr" x="511"/><use href="#tr" x="751"/>
<rect class="so" x="31" y="0" width="960" height="60"/></g>
<g id="row35" transform="translate(0,4999)"><use href="#grid2"/><text class="m" x="32" y="-8">137</text><text class="m" x="272" y="-8">138</text>
<use href="#tr" x="31"/>
<text class="n c" x="270" y="90">73844</text><text class="n a" x="510" y="77">0</text><text class="n c" x="510" y="90">73844</text>
<rect class="so" x="31" y="0" width="240" height="60"/></g>
</g>
</svg>
